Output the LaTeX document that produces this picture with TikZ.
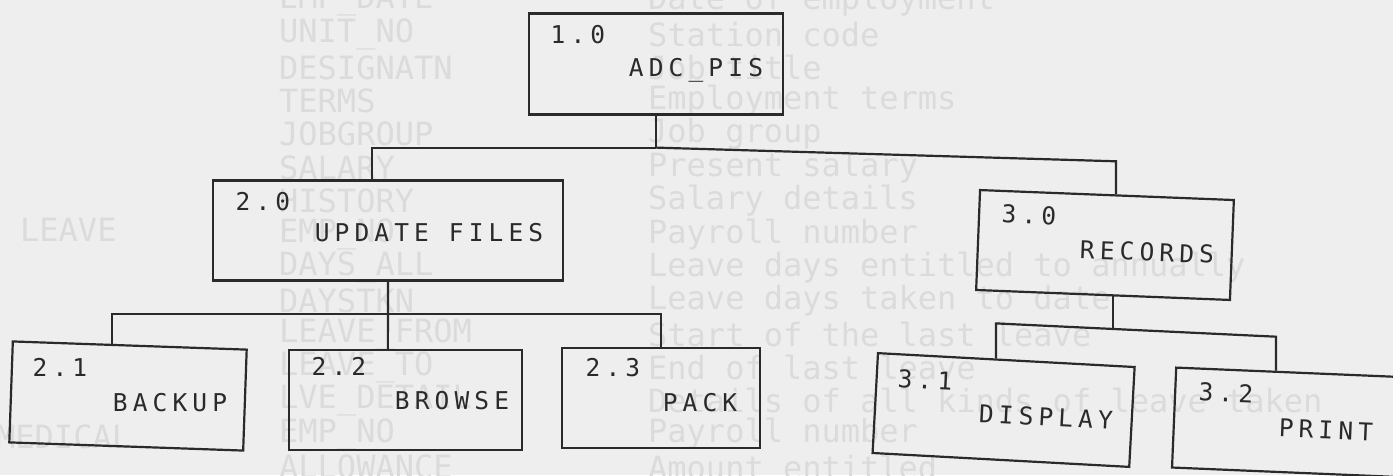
\documentclass[tikz,border=0pt]{standalone}
\usepackage{fontspec}
\usetikzlibrary{calc}
\newfontfamily\boxfont[LetterSpace=21]{DejaVu Sans Mono}
\newfontfamily\ghostfont{DejaVu Sans Mono}
\definecolor{paper}{HTML}{EEEEEE}
\definecolor{ghost}{HTML}{DBDBDB}
\definecolor{ink}{HTML}{2A2A2A}
\begin{document}
\begin{tikzpicture}[x=1pt,y=-1pt,
  box/.style={draw=ink, line width=2.2pt, inner sep=0pt, minimum height=100pt},
  lbl/.style={text=ink, font={\boxfont\fontsize{24.5}{28}\selectfont}, inner sep=0pt},
  conn/.style={draw=ink, line width=2.2pt},
  gtext/.style={text=ghost, font={\ghostfont\fontsize{32}{36}\selectfont}, anchor=west, inner sep=0pt}]
\useasboundingbox (0,0) rectangle (1393,475);
\fill[paper] (0,0) rectangle (1393,475);
\clip (0,0) rectangle (1393,475);

% faint text showing through the page
\foreach \t [count=\i from 0] in {EMP\_DATE,UNIT\_NO,DESIGNATN,TERMS,JOBGROUP,SALARY,HISTORY,EMP\_NO,DAYS\_ALL,DAYSTKN,LEAVE\_FROM,LEAVE\_TO,LVE\_DETAIL,EMP\_NO,ALLOWANCE}
  \node[gtext] (gl\i) at (279,{1+33.3*\i}) {\t};
\foreach \t [count=\i from 0] in {Date of employment,Station code,Job title,Employment terms,Job group,Present salary,Salary details,Payroll number,Leave days entitled to annually,Leave days taken to date,Start of the last leave,End of last leave,Details of all kinds of leave taken,Payroll number,Amount entitled}
  \node[gtext] (gr\i) at (648,{1+33.3*\i}) {\t};
\node[gtext] (gleave) at (20,230) {LEAVE};
\node[gtext] (gmed) at (-4,437) {MEDICAL};

% boxes
\node[box, minimum width=254pt, minimum height=101pt] (b10) at (656,64) {};
\node[box, minimum width=350pt] (b20) at (388,230.5) {};
\node[box, minimum width=254pt, rotate=-2.25] (b30) at (1105,245) {};
\node[box, minimum width=234pt, minimum height=101pt, rotate=-2] (b21) at (128,396) {};
\node[box, minimum width=233pt] (b22) at (405.5,400) {};
\node[box, minimum width=198pt] (b23) at (661,398) {};
\node[box, minimum width=257pt, rotate=-3.1] (b31) at (1003.6,410) {};
\node[box, minimum width=260pt, rotate=-2.4] (b32) at (1304,423) {};

% labels
\node[lbl] (n10) at (578,35) {1.0};
\node[lbl] (l10) at (696,70) {ADC\_PIS};
\node[lbl] (n20) at (263,202) {2.0};
\node[lbl] (l20) at (429,233) {UPDATE FILES};
\node[lbl] (n21) at (60,367) {2.1};
\node[lbl] (l21) at (170,403) {BACKUP};
\node[lbl] (n22) at (339,366) {2.2};
\node[lbl] (l22) at (452,401) {BROWSE};
\node[lbl] (n23) at (613,368) {2.3};
\node[lbl] (l23) at (700,403) {PACK};
\node[lbl, rotate=-2.25] (n30) at (1029,215) {3.0};
\node[lbl, rotate=-2.25] (l30) at (1147,252) {RECORDS};
\node[lbl, rotate=-3.1] (n31) at (925,380) {3.1};
\node[lbl, rotate=-3.1] (l31) at (1046,417) {DISPLAY};
\node[lbl, rotate=-2.4] (n32) at (1226,393) {3.2};
\node[lbl, rotate=-2.4] (l32) at (1326,430) {PRINT};

% attachment points on the box edges
\coordinate (t20) at ($(b20.north west)!0.454!(b20.north east)$);
\coordinate (t30) at ($(b30.north west)!0.535!(b30.north east)$);
\coordinate (s30) at ($(b30.south west)!0.54!(b30.south east)$);
\coordinate (t21) at ($(b21.north west)!0.423!(b21.north east)$);
\coordinate (t22) at ($(b22.north west)!0.425!(b22.north east)$);
\coordinate (t31) at ($(b31.north west)!0.46!(b31.north east)$);
\coordinate (t32) at ($(b32.north west)!0.385!(b32.north east)$);

% connectors level 1
\coordinate (j1) at ($(b10.south)+(0,32)$);
\draw[conn] (b10.south) -- (j1);
\draw[conn] (j1) -- (j1 -| t20) -- (t20);
\draw[conn] (j1) -- ($(t30)+(0,-33)$) -- (t30);

% connectors level 2
\coordinate (j2) at ($(b20.south)+(0,32)$);
\draw[conn] (b20.south) -- (t22);
\draw[conn] (t21) -- (t21 |- j2) -- (b23.north |- j2) -- (b23.north);

% connectors level 3
\coordinate (j3) at ($(s30)+(0,33)$);
\draw[conn] (s30) -- (j3);
\draw[conn] (t31) -- ($(t31)+(0,-35)$) -- ($(t32)+(0,-34)$) -- (t32);
\end{tikzpicture}
\end{document}
